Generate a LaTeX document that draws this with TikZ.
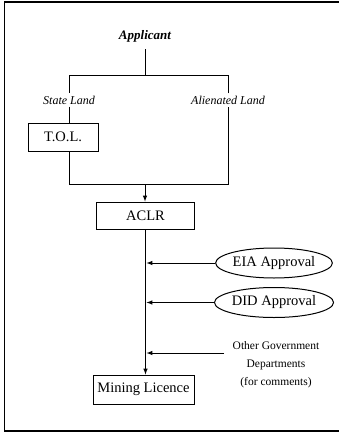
\documentclass[tikz,border=0pt]{standalone}
\usepackage{fontspec}
\setmainfont{Liberation Serif}
\usetikzlibrary{shapes.geometric}

\begin{document}
\begin{tikzpicture}[x=1pt,y=-1pt,>=latex,line width=1pt,
  box/.style={draw,rectangle,inner sep=0pt,font=\fontsize{14.5}{17}\selectfont},
  oval/.style={draw,ellipse,inner sep=0pt,minimum width=98pt,minimum height=30pt,
    font=\fontsize{14.5}{17}\selectfont},
  branch/.style={inner sep=2pt,font=\fontsize{12}{14}\selectfont\itshape}]

  \useasboundingbox (0,0) rectangle (339,433);
  \draw[line width=1.5pt] (341,2) -- (4.5,2) -- (4.5,431) -- (341,431);

  \node[inner sep=7pt,font=\fontsize{13}{15}\selectfont\bfseries\itshape] (app) at (145,36) {Applicant};
  \coordinate (split) at (145,76);
  \coordinate (join) at (145,184);
  \node[branch] (state) at (69,100) {State Land};
  \node[branch] (alien) at (228,100) {Alienated Land};
  \node[box,minimum width=70pt,minimum height=28pt] (tol) at (63,137) {T.O.L.};
  \node[box,minimum width=98pt,minimum height=27pt] (aclr) at (145.5,215.5) {ACLR};
  \node[box,minimum width=101pt,minimum height=29pt] (ml) at (143.5,389.5) {Mining Licence};
  \node[oval] (eia) at (274,263) {EIA Approval};
  \node[oval] (did) at (274,302.5) {DID Approval};
  \node[align=center,inner sep=2pt,font=\fontsize{11.5}{18}\selectfont] (other) at (276,365)
    {Other Government\\Departments\\(for comments)};

  \draw (app) -- (split);
  \draw (split) -| (state.north);
  \draw (state.south) -- (state.south |- tol.north);
  \draw (state.south |- tol.south) -- (state.south |- join) -- (alien.south |- join) -- (alien.south);
  \draw (alien.north) |- (split);
  \draw[->] (join) -- (join |- aclr.north);

  \draw[->] (aclr.south) -- (aclr.south |- ml.north);
  \draw[->,shorten >=1pt] (eia) -- (aclr.south |- eia.west);
  \draw[->,shorten >=1pt] (did) -- (aclr.south |- did.west);
  \draw[->,shorten >=1pt] ([shift={(-6,-12)}]other.west) -- (aclr.south |- 0,353);

\end{tikzpicture}
\end{document}
